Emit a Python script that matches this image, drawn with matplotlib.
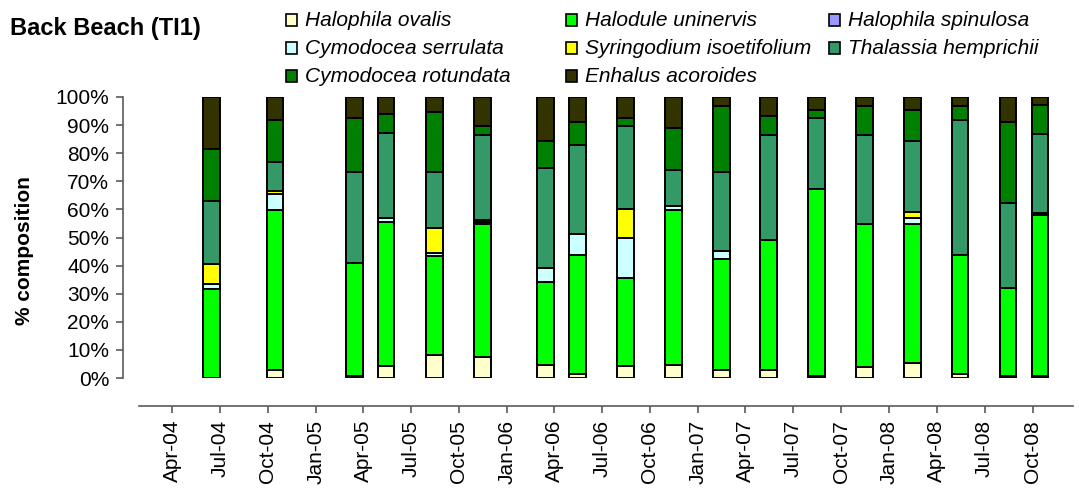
"""Back Beach (TI1): seagrass species composition per survey, stacked to 100%."""
import datetime as dt

import matplotlib

matplotlib.use("Agg")
import matplotlib.dates as mdates
import matplotlib.pyplot as plt
from matplotlib.patches import Rectangle
from matplotlib.ticker import FuncFormatter

plt.rcParams["font.family"] = ["Liberation Sans", "DejaVu Sans"]

W, H = 1079, 491

survey_dates = [
    dt.date(2004, 6, 15), dt.date(2004, 10, 15), dt.date(2005, 3, 15), dt.date(2005, 5, 15),
    dt.date(2005, 8, 15), dt.date(2005, 11, 15), dt.date(2006, 3, 15), dt.date(2006, 5, 15),
    dt.date(2006, 8, 15), dt.date(2006, 11, 15), dt.date(2007, 2, 15), dt.date(2007, 5, 15),
    dt.date(2007, 8, 15), dt.date(2007, 11, 15), dt.date(2008, 2, 15), dt.date(2008, 5, 15),
    dt.date(2008, 8, 15), dt.date(2008, 10, 15),
]

# % composition per species, bottom of the stack first
halophila_ovalis = [0, 2.7, 0.6, 4.2, 8.3, 7.5, 4.7, 1.4, 4.2, 4.7, 2.7, 2.7, 0.6, 3.9, 5.5, 1.4, 0.6, 0.6]
halodule_uninervis = [31.6, 57.1, 40.4, 51.3, 35.1, 47.2, 29.5, 42.3, 31.4, 55.2, 39.8, 46.5, 66.5, 51.0, 49.4, 42.3, 31.4, 57.4]
halophila_spinulosa = [0] * 18
cymodocea_serrulata = [2.0, 5.8, 0, 1.6, 1.1, 0.8, 4.9, 7.7, 14.3, 1.2, 2.7, 0, 0, 0, 2.0, 0, 0, 0.3]
syringodium_isoetifolium = [6.9, 0.8, 0, 0, 8.9, 0.8, 0, 0, 10.4, 0, 0, 0, 0, 0, 2.1, 0, 0, 0.4]
thalassia_hemprichii = [22.5, 10.5, 32.3, 30.1, 19.9, 30.1, 35.6, 31.4, 29.5, 12.8, 28.0, 37.2, 25.4, 31.5, 25.2, 48.0, 30.3, 28.3]
cymodocea_rotundata = [18.4, 15.0, 19.2, 6.6, 21.4, 3.4, 9.5, 8.3, 2.7, 15.1, 23.5, 6.7, 2.8, 10.3, 11.1, 5.0, 28.8, 10.3]
enhalus_acoroides = [18.6, 8.1, 7.5, 6.2, 5.3, 10.2, 15.8, 8.9, 7.5, 11.0, 3.3, 6.9, 4.7, 3.3, 4.7, 3.3, 8.9, 2.7]

species = [
    ("Halophila ovalis", halophila_ovalis, "#ffffcc"),
    ("Halodule uninervis", halodule_uninervis, "#00ff00"),
    ("Halophila spinulosa", halophila_spinulosa, "#9999ff"),
    ("Cymodocea serrulata", cymodocea_serrulata, "#ccffff"),
    ("Syringodium isoetifolium", syringodium_isoetifolium, "#ffff00"),
    ("Thalassia hemprichii", thalassia_hemprichii, "#339966"),
    ("Cymodocea rotundata", cymodocea_rotundata, "#008000"),
    ("Enhalus acoroides", enhalus_acoroides, "#333300"),
]

AXIS = "#5a5a5a"


def fx(px):
    return px / W


def fy(py):
    return 1 - py / H


fig = plt.figure(figsize=(W / 100, H / 100), dpi=100, facecolor="white")
ax = fig.add_axes([fx(139), fy(378), fx(1073) - fx(139), (378 - 97) / H])

x = mdates.date2num(survey_dates)
bottom = [0.0] * len(x)
for name, vals, color in species:
    # skip empty segments so they don't leave stray edge lines
    xs = [xi for xi, v in zip(x, vals) if v > 0]
    hs = [v for v in vals if v > 0]
    bs = [b for b, v in zip(bottom, vals) if v > 0]
    ax.bar(xs, hs, bottom=bs, width=32, color=color, edgecolor="black", linewidth=1.4, zorder=3)
    bottom = [b + v for b, v in zip(bottom, vals)]

ax.set_ylim(0, 100)
ax.set_xlim(mdates.date2num(dt.date(2004, 1, 29)), mdates.date2num(dt.date(2008, 12, 17)))
ax.set_yticks(range(0, 101, 10))
ax.yaxis.set_major_formatter(FuncFormatter(lambda v, _: f"{v:.0f}%"))

ticks = [dt.date(y, m, 1) for y in range(2004, 2009) for m in (1, 4, 7, 10)]
ticks = [t for t in ticks if dt.date(2004, 4, 1) <= t <= dt.date(2008, 10, 1)]
ax.set_xticks(mdates.date2num(ticks))
ax.xaxis.set_major_formatter(mdates.DateFormatter("%b-%y"))

for s in ("top", "right"):
    ax.spines[s].set_visible(False)
ax.spines["left"].set_position(("outward", 11.5))
ax.spines["bottom"].set_position(("outward", 20.2))
for s in ("left", "bottom"):
    ax.spines[s].set_color(AXIS)
    ax.spines[s].set_linewidth(1.2)
ax.tick_params(axis="both", colors=AXIS, labelcolor="black", labelsize=15, length=5, width=1.2)
ax.tick_params(axis="y", pad=5)
ax.tick_params(axis="x", pad=5, labelrotation=90)

fig.text(fx(25), fy(251), "% composition", rotation=90, ha="center", va="center",
         fontsize=15, fontweight="bold")
fig.text(fx(10), fy(28), "Back Beach (TI1)", ha="left", va="center", fontsize=17, fontweight="bold")

# legend laid out like the spreadsheet's: three fixed-width columns
col_px = [286, 566, 829]
row_px = [20, 48, 76]
for i, (name, _, color) in enumerate(species):
    cx, cy = col_px[i % 3], row_px[i // 3]
    fig.patches.append(Rectangle((fx(cx), fy(cy + 5.5)), 11 / W, 11 / H, transform=fig.transFigure,
                                 facecolor=color, edgecolor="black", linewidth=1.2))
    fig.text(fx(cx + 19), fy(cy), name, ha="left", va="center", fontsize=15, fontstyle="italic")

fig.savefig("out.png", dpi=100, facecolor="white")
